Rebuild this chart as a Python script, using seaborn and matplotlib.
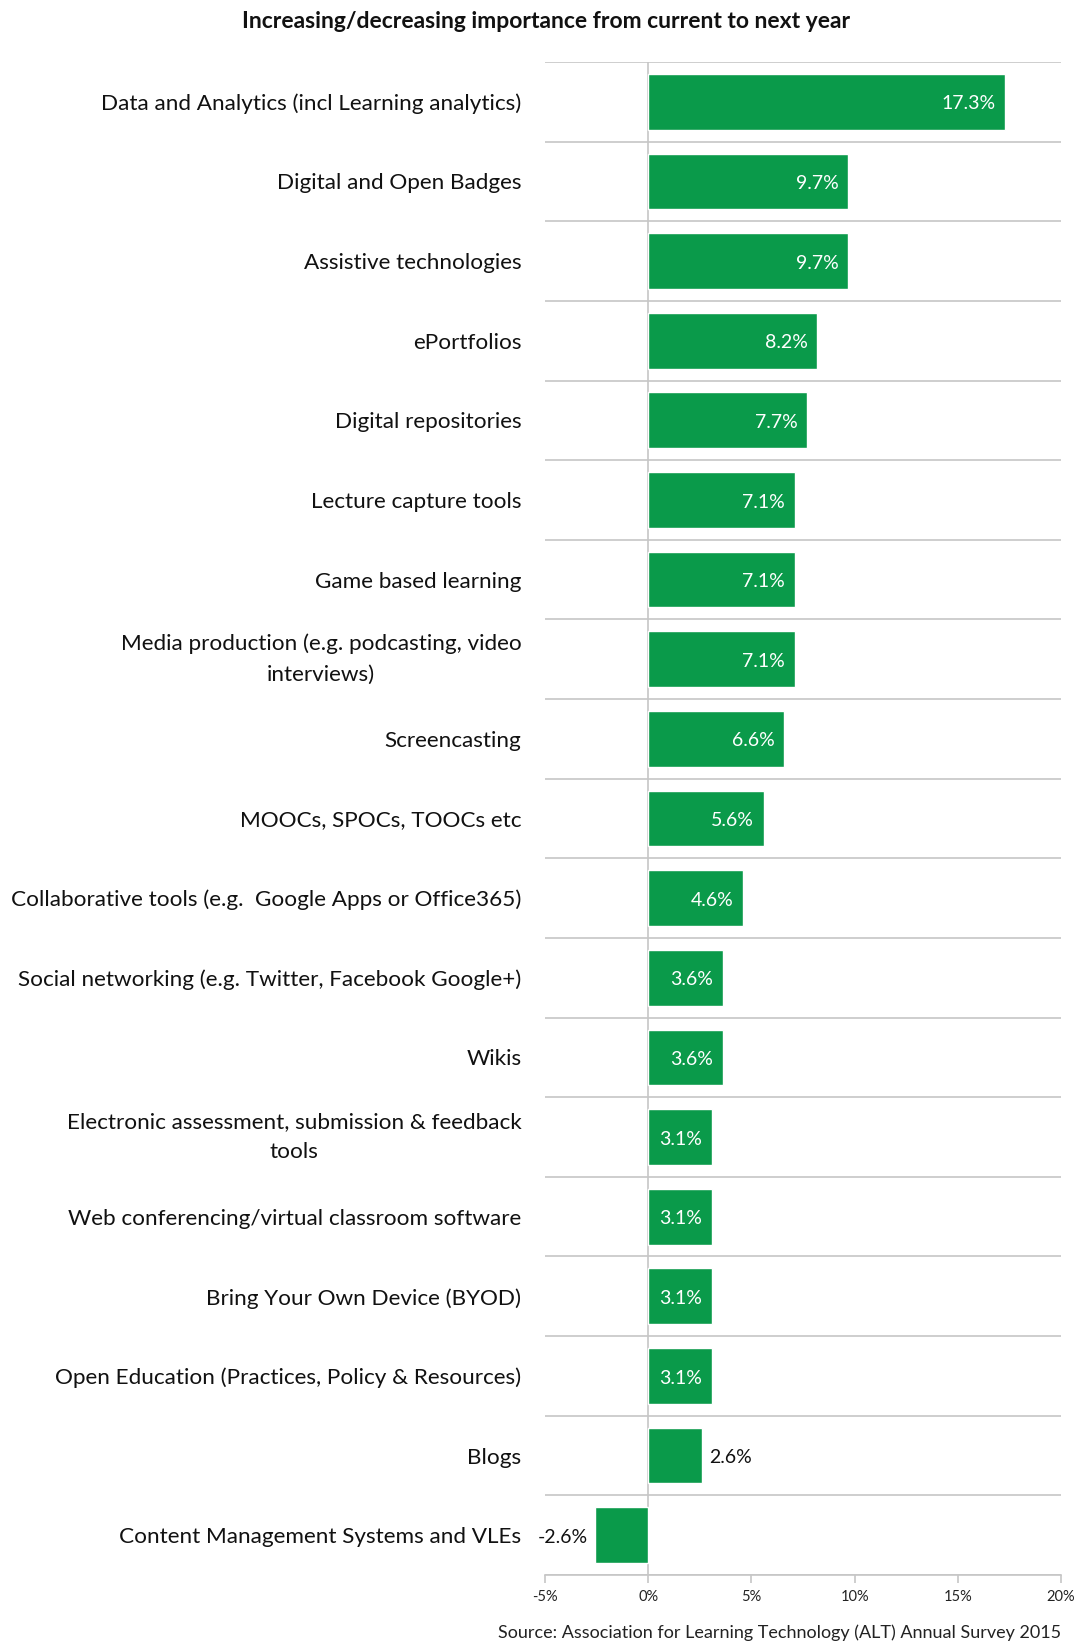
import numpy as np
import pandas as pd
import matplotlib
matplotlib.use("Agg")
import matplotlib.pyplot as plt
import seaborn as sns

categories = [
    "Data and Analytics (incl Learning analytics)",
    "Digital and Open Badges",
    "Assistive technologies",
    "ePortfolios",
    "Digital repositories",
    "Lecture capture tools",
    "Game based learning",
    "Media production (e.g. podcasting, video\ninterviews)",
    "Screencasting",
    "MOOCs, SPOCs, TOOCs etc",
    "Collaborative tools (e.g.  Google Apps or Office365)",
    "Social networking (e.g. Twitter, Facebook Google+)",
    "Wikis",
    "Electronic assessment, submission & feedback\ntools",
    "Web conferencing/virtual classroom software",
    "Bring Your Own Device (BYOD)",
    "Open Education (Practices, Policy & Resources)",
    "Blogs",
    "Content Management Systems and VLEs",
]
values = [17.3, 9.7, 9.7, 8.2, 7.7, 7.1, 7.1, 7.1, 6.6, 5.6, 4.6,
          3.6, 3.6, 3.1, 3.1, 3.1, 3.1, 2.6, -2.6]
x_ticks = [-5, 0, 5, 10, 15, 20]
x_tick_labels = ["-5%", "0%", "5%", "10%", "15%", "20%"]

title = "Increasing/decreasing importance from current to next year"
source = "Source: Association for Learning Technology (ALT) Annual Survey 2015"

GREEN = "#0a9a4a"
GRID = "#c6c6c6"

sns.set_theme(style="white")
plt.rcParams["font.family"] = ["Lato", "DejaVu Sans"]

df = pd.DataFrame({"category": categories, "value": values})

fig = plt.figure(figsize=(10.8, 16.42), dpi=100)
ax = fig.add_axes([545 / 1080, 1 - 1575 / 1642, (1061 - 545) / 1080, (1575 - 62) / 1642])

sns.barplot(data=df, y="category", x="value", orient="h", color=GREEN,
            saturation=1, width=0.7, ax=ax)

n = len(categories)
ax.set_xlim(-5, 20)
ax.set_ylim(n - 0.5, -0.5)

# category separators and zero line
ax.set_yticks(np.arange(-0.5, n, 1), minor=True)
ax.grid(axis="y", which="minor", color=GRID, linewidth=1.2)
ax.grid(axis="y", which="major", visible=False)
ax.grid(axis="x", visible=False)
ax.axvline(0, color=GRID, linewidth=1.2, zorder=0)
ax.set_axisbelow(True)

for s in ["top", "right", "left"]:
    ax.spines[s].set_visible(False)
ax.spines["bottom"].set_color(GRID)
ax.spines["bottom"].set_linewidth(1.2)

ax.set_xticks(x_ticks)
ax.set_xticklabels(x_tick_labels, fontsize=10.5, color="#222222")
ax.tick_params(axis="x", which="major", direction="out", length=6, width=1.2,
               color=GRID, pad=5, bottom=True)
ax.tick_params(axis="y", which="both", length=0, pad=17)
ax.set_yticks(range(n))
ax.set_yticklabels(categories, fontsize=16.2, color="#111111",
                   multialignment="center", linespacing=1.65)
for lbl in ax.get_yticklabels():
    if "\n" in lbl.get_text():
        lbl.set_verticalalignment("center")
ax.set_xlabel("")
ax.set_ylabel("")

# value labels
for i, v in enumerate(values):
    txt = f"{v:.1f}%"
    if v >= 3:
        ax.annotate(txt, (v, i), xytext=(-7, -1.5), textcoords="offset points",
                    ha="right", va="center", color="white", fontsize=14)
    elif v >= 0:
        ax.annotate(txt, (v, i), xytext=(5, -1.5), textcoords="offset points",
                    ha="left", va="center", color="#111111", fontsize=14)
    else:
        ax.annotate(txt, (v, i), xytext=(-5, -1.5), textcoords="offset points",
                    ha="right", va="center", color="#111111", fontsize=14)

fig.text(546 / 1080, 1 - 21 / 1642, title, ha="center", va="center",
         fontsize=16.5, fontweight="bold", color="#111111")
fig.text(1061 / 1080, 1 - 1633 / 1642, source, ha="right", va="center",
         fontsize=13, color="#222222")

fig.savefig("out.png", dpi=100, facecolor="white")
